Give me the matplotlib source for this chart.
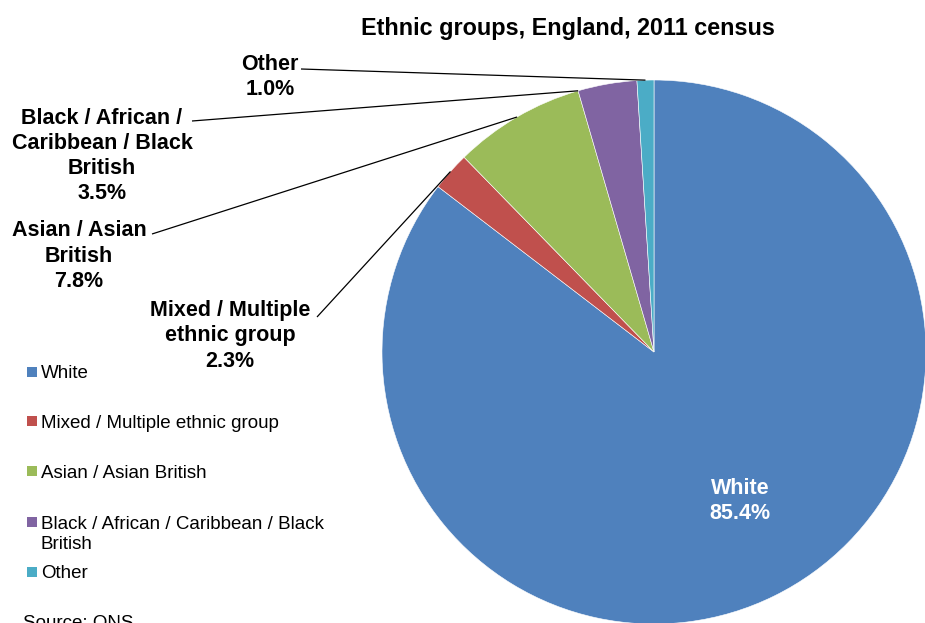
import numpy as np
import matplotlib
matplotlib.use("Agg")
import matplotlib.pyplot as plt
from matplotlib.patches import Rectangle

plt.rcParams['font.family'] = ['Liberation Sans', 'DejaVu Sans']

# Ethnic groups, England, 2011 census (percent of population)
groups = ['White', 'Mixed / Multiple ethnic group', 'Asian / Asian British',
          'Black / African / Caribbean / Black British', 'Other']
shares = [85.4, 2.3, 7.8, 3.5, 1.0]
colors = ['#4F81BD', '#C0504D', '#9BBB59', '#8064A2', '#4BACC6']

# wrapped labels as they sit beside the pie
pie_labels = ['White', 'Mixed / Multiple\nethnic group', 'Asian / Asian\nBritish',
              'Black / African /\nCaribbean / Black\nBritish', 'Other']
legend_labels = ['White', 'Mixed / Multiple ethnic group', 'Asian / Asian British',
                 'Black / African / Caribbean / Black\nBritish', 'Other']

W, H = 925, 623
fig = plt.figure(figsize=(W / 100, H / 100), dpi=100)
ax = fig.add_axes([0, 0, 1, 1])


def py(y):
    # work in top-down pixel rows
    return H - y


cx, cy, r = 654, py(352), 272
wedges, _ = ax.pie(shares, colors=colors, startangle=90, counterclock=False,
                   center=(cx, cy), radius=r, frame=True,
                   wedgeprops=dict(edgecolor='white', linewidth=0.4))
ax.set_xlim(0, W)
ax.set_ylim(0, H)
ax.set_aspect('equal')
ax.axis('off')


def edge_point(w, frac=0.5):
    a = np.deg2rad(w.theta1 + (w.theta2 - w.theta1) * frac)
    return cx + r * np.cos(a), cy + r * np.sin(a)


label_font = dict(fontsize=15.5, fontweight='bold', ha='center', va='center',
                  linespacing=1.27, color='black')

# White label inside the big slice
ax.text(740, py(501), pie_labels[0] + '\n%.1f%%' % shares[0],
        **dict(label_font, color='white'))

# outside labels: (text centre, leader start, fraction along wedge for end)
outside = {
    1: ((230, py(336)), (317, py(317)), 0.5),
    2: ((79, py(256)), (152, py(234)), 0.5),
    3: ((102, py(156)), (192, py(121)), 1.0),
    4: ((270, py(77)), (301, py(69)), 0.5),
}
for i, (tpos, start, frac) in outside.items():
    ax.text(tpos[0], tpos[1], pie_labels[i] + '\n%.1f%%' % shares[i], **label_font)
    ex, ey = edge_point(wedges[i], frac)
    ax.plot([start[0], ex], [start[1], ey], color='black', lw=0.9,
            solid_capstyle='butt')

ax.text(568, py(29), 'Ethnic groups, England, 2011 census', fontsize=16.8,
        fontweight='bold', ha='center', va='center')

# legend down the left side
legend_rows = [372, 421, 471, 522, 572]
for i, yrow in enumerate(legend_rows):
    ax.add_patch(Rectangle((27, py(yrow) - 5), 10, 10, color=colors[i], lw=0))
    if '\n' in legend_labels[i]:
        ax.text(41, py(yrow - 6), legend_labels[i], fontsize=13.5, ha='left',
                va='top', linespacing=1.22)
    else:
        ax.text(41, py(yrow + 2), legend_labels[i], fontsize=13.5, ha='left',
                va='center')

ax.text(23, py(624), 'Source: ONS', fontsize=13.5, ha='left', va='center')

fig.savefig('out.png', dpi=100)
